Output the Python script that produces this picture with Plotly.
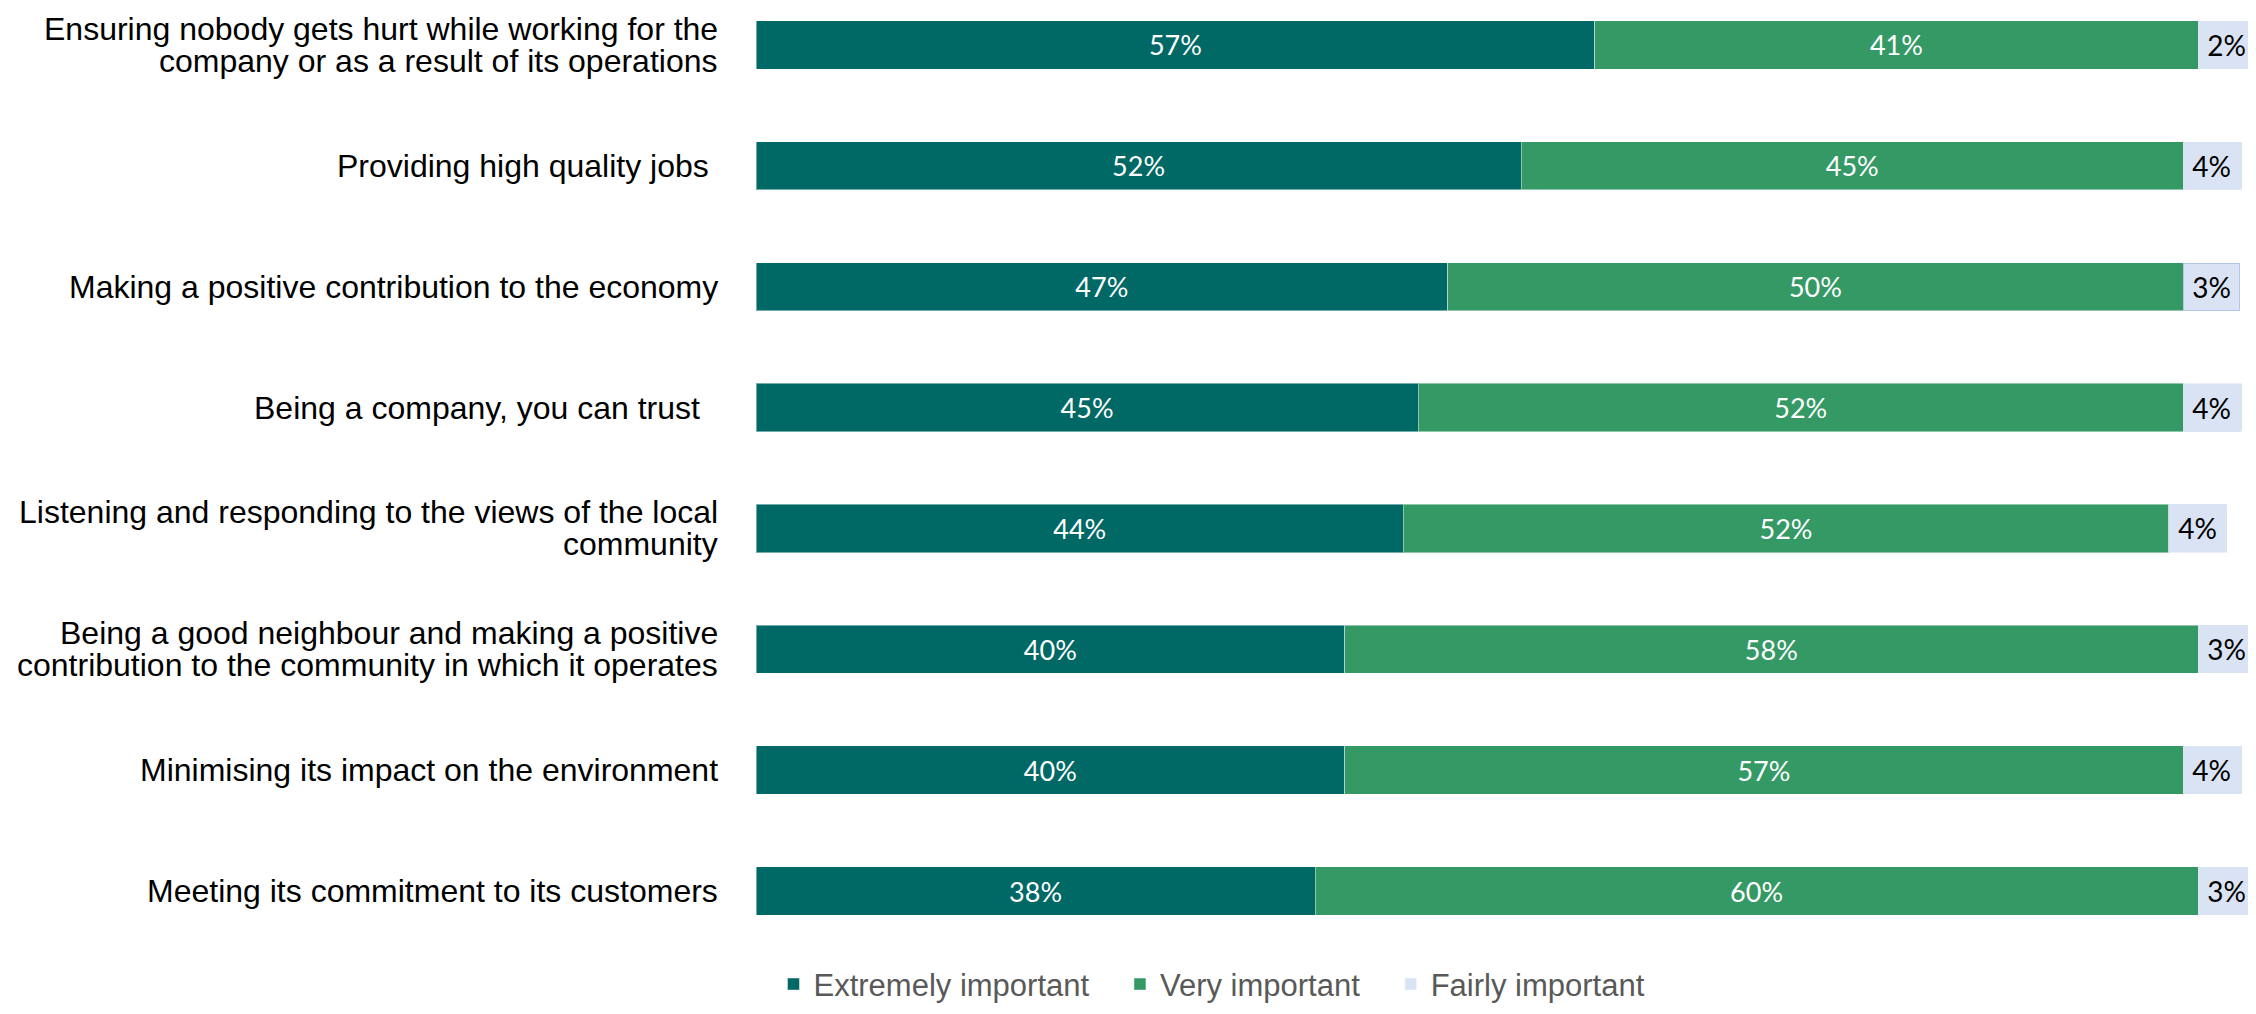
import plotly.graph_objects as go

# statements, top to bottom as shown (<br> marks the line break)
statements = [
    "Ensuring nobody gets hurt while working for the<br>company or as a result of its operations",
    "Providing high quality jobs\u00a0",
    "Making a positive contribution to the economy",
    "Being a company, you can trust\u00a0\u00a0",
    "Listening and responding to the views of the local<br>community",
    "Being a good neighbour and making a positive<br>contribution to the community in which it operates",
    "Minimising its impact on the environment",
    "Meeting its commitment to its customers",
]
extremely = [57, 52, 47, 45, 44, 40, 40, 38]
very = [41, 45, 50, 52, 52, 58, 57, 60]
fairly = [2, 4, 3, 4, 4, 3, 4, 3]

series_names = ["Extremely important", "Very important", "Fairly important"]
colors = ["#006865", "#359966", "#dae3f3"]

LABEL_FONT = "Liberation Sans, Arial, sans-serif"
VALUE_FONT = "Lato, Open Sans, sans-serif"

fig = go.Figure()
for name, vals, col in zip(series_names, [extremely, very, fairly], colors):
    is_last = name == "Fairly important"
    fig.add_trace(go.Bar(
        y=statements,
        x=vals,
        # a little padding after the name widens the gap between legend entries
        name=name if is_last else name + "\u00a0" * 3,
        orientation="h",
        marker=dict(color=col, line=dict(color="rgba(255,255,255,0.45)", width=1)),
        text=None if is_last else [f"{v}%" for v in vals],
        textposition="inside",
        insidetextanchor="middle",
        textfont=dict(family=VALUE_FONT, size=27, color="white"),
        hoverinfo="skip",
    ))

# boxed labels for the small "fairly important" segment, sitting after the green bar
for i, (s, e, v, f) in enumerate(zip(statements, extremely, very, fairly)):
    fig.add_annotation(
        x=e + v, y=s, xref="x", yref="y",
        xanchor="left", yanchor="middle",
        text=f"{f}%", showarrow=False,
        width=55, height=46,
        bgcolor="#dae3f3",
        bordercolor="#b4c7e7" if i == 2 else "#dae3f3",
        borderwidth=1, borderpad=0,
        font=dict(family=VALUE_FONT, size=28, color="black"),
    )

# category labels as annotations so the line spacing can be kept tight
line_gap = 32
for s in statements:
    lines = s.split("<br>")
    n = len(lines)
    for k, ln in enumerate(lines):
        fig.add_annotation(
            x=0, y=s, xref="paper", yref="y",
            xanchor="right", yanchor="middle",
            xshift=-36, yshift=((n - 1) / 2 - k) * line_gap,
            text=ln, showarrow=False,
            font=dict(family=LABEL_FONT, size=32, color="black"),
        )

fig.update_layout(
    barmode="stack",
    width=2256, height=1014,
    margin=dict(l=748, r=13, t=10, b=94, autoexpand=False),
    plot_bgcolor="white",
    paper_bgcolor="white",
    bargap=0.6,
    showlegend=True,
    legend=dict(
        orientation="h",
        x=0.305, xanchor="center",
        y=-0.062, yanchor="middle",
        font=dict(family=LABEL_FONT, size=31, color="#595959"),
        traceorder="normal",
        tracegroupgap=0,
    ),
    font=dict(family=LABEL_FONT),
)
fig.update_xaxes(range=[0, 101.6], visible=False, fixedrange=True)
fig.update_yaxes(
    categoryorder="array", categoryarray=statements,
    range=[7.306, -0.223],
    showgrid=False, zeroline=False, showline=False,
    showticklabels=False,
)

fig.write_html("out.html")
